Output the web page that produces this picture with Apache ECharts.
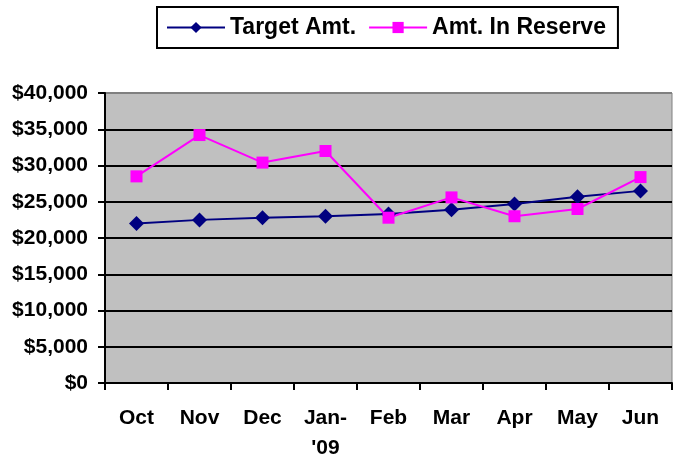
<!DOCTYPE html>
<html><head><meta charset="utf-8">
<script src="https://cdn.jsdelivr.net/npm/echarts@6/dist/echarts.min.js"></script>
<style>html,body{margin:0;padding:0;background:#fff;overflow:hidden}#c{width:673px;height:463px}</style>
</head><body><div id="c"></div>
<script>
const categories = ['Oct','Nov','Dec',"Jan-\n'09",'Feb','Mar','Apr','May','Jun'];
const targetAmt = [22000,22500,22800,23000,23300,23900,24700,25700,26500];
const reserveAmt = [28500,34200,30400,32000,22800,25600,23000,24000,28400];
const seriesNames = ['Target Amt.','Amt. In Reserve'];

const font = '"Liberation Sans", Arial, sans-serif';
const chart = echarts.init(document.getElementById('c'));
chart.setOption({
  animation:false,
  backgroundColor:'#fff',
  legend:{
    left:157, top:7,
    padding:[9,12,9,9],
    itemGap:12,
    itemWidth:58, itemHeight:14,
    borderColor:'#000', borderWidth:2,
    textStyle:{fontFamily:font,fontWeight:'bold',fontSize:23,color:'#000'},
    data:seriesNames
  },
  grid:{left:105,top:93,width:567,height:298,show:true,backgroundColor:'#C0C0C0',borderColor:'#808080',borderWidth:1},
  xAxis:{
    type:'category', data:categories, boundaryGap:true,
    axisLine:{lineStyle:{color:'#000',width:2}},
    axisTick:{show:true,length:7,lineStyle:{color:'#000',width:2}},
    axisLabel:{fontFamily:font,fontWeight:'bold',fontSize:21,color:'#000',margin:20,lineHeight:30,interval:0}
  },
  yAxis:{
    type:'value', min:0, max:40000, interval:5000,
    axisLine:{show:true,lineStyle:{color:'#000',width:2}},
    axisTick:{show:true,length:7,lineStyle:{color:'#000',width:2}},
    axisLabel:{fontFamily:font,fontWeight:'bold',fontSize:21,color:'#000',margin:17,
      formatter:v=>'$'+v.toLocaleString('en-US')},
    splitLine:{show:true,lineStyle:{color:['#000','#000','#000','#000','#000','#000','#000','#000','#808080'],width:2}}
  },
  series:[
    {name:seriesNames[0],type:'line',data:targetAmt,symbol:'diamond',symbolSize:15,
     itemStyle:{color:'#000080'},lineStyle:{color:'#000080',width:2}},
    {name:seriesNames[1],type:'line',data:reserveAmt,symbol:'rect',symbolSize:12,
     itemStyle:{color:'#FF00FF'},lineStyle:{color:'#FF00FF',width:2}}
  ]
});
</script></body></html>
